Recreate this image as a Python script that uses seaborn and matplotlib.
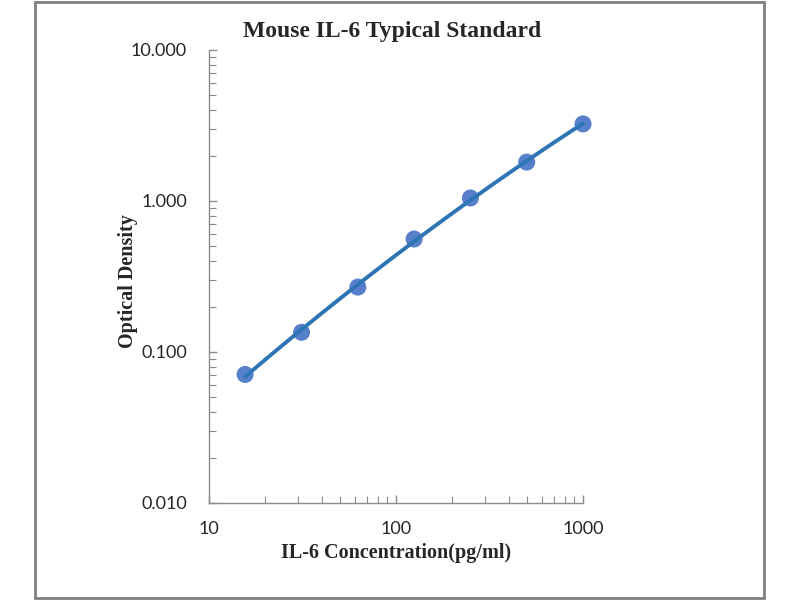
import numpy as np
import pandas as pd
import matplotlib
matplotlib.use("Agg")
import matplotlib.pyplot as plt
import matplotlib.ticker as mticker
import seaborn as sns

# data
conc = [15.6, 31.25, 62.5, 125, 250, 500, 1000]
od = [0.071, 0.135, 0.269, 0.560, 1.047, 1.81, 3.24]

df = pd.DataFrame({"conc": conc, "od": od})

# fitted curve (2nd order in log-log space)
coef = np.polyfit(np.log10(df["conc"]), np.log10(df["od"]), 2)
xs = np.logspace(np.log10(conc[0]), np.log10(conc[-1]), 100)
fit = pd.DataFrame({"conc": xs, "od": 10 ** np.polyval(coef, np.log10(xs))})

sns.set_style("white")

fig = plt.figure(figsize=(8, 6), dpi=100)
ax = fig.add_axes([0.26125, 0.16167, 0.4675, 0.755])

sns.scatterplot(data=df, x="conc", y="od", ax=ax, s=150, color="#4472C4",
                alpha=0.9, edgecolor="none", zorder=2, clip_on=False)
sns.lineplot(data=fit, x="conc", y="od", ax=ax, color="#2E75B6", lw=2.8,
             zorder=3, clip_on=False)

ax.set_xscale("log")
ax.set_yscale("log")
ax.set_xlim(10, 1000)
ax.set_ylim(0.01, 10)

ax.yaxis.set_major_formatter(mticker.FuncFormatter(lambda v, p: f"{v:.3f}"))
ax.xaxis.set_major_formatter(mticker.FuncFormatter(lambda v, p: f"{v:g}"))
ax.xaxis.set_minor_formatter(mticker.NullFormatter())
ax.yaxis.set_minor_formatter(mticker.NullFormatter())
ax.xaxis.set_minor_locator(mticker.LogLocator(base=10, subs=np.arange(2, 10)))
ax.yaxis.set_minor_locator(mticker.LogLocator(base=10, subs=np.arange(2, 10)))

for s in ["top", "right"]:
    ax.spines[s].set_visible(False)
for s in ["left", "bottom"]:
    ax.spines[s].set_color("#8c8c8c")
    ax.spines[s].set_linewidth(1.0)

ax.tick_params(axis="both", which="both", direction="in", color="#8c8c8c",
               labelcolor="#262626", labelsize=13, bottom=True, left=True)
ax.tick_params(axis="both", which="major", length=6, width=1)
ax.tick_params(axis="both", which="minor", length=5, width=0.8)
ax.tick_params(axis="y", which="both", pad=16)
ax.tick_params(axis="x", which="both", pad=13)
for lab in ax.get_xticklabels() + ax.get_yticklabels():
    lab.set_family("Lato")

ax.set_xlabel("IL-6 Concentration(pg/ml)", fontsize=14.5, fontweight="bold",
              family="Liberation Serif", labelpad=4)
ax.set_ylabel("Optical Density", fontsize=14.5, fontweight="bold",
              family="Liberation Serif")
ax.yaxis.set_label_coords(-0.19, 0.49)
fig.text(0.49, 0.947, "Mouse IL-6 Typical Standard", ha="center", va="center",
         fontsize=17, fontweight="bold", family="Liberation Serif")

frame = plt.Rectangle((35 / 800, 2 / 600), 729 / 800, 596 / 600,
                      transform=fig.transFigure, fill=False,
                      edgecolor="#7f7f7f", lw=2)
fig.patches.append(frame)

fig.savefig("out.png", dpi=100)
